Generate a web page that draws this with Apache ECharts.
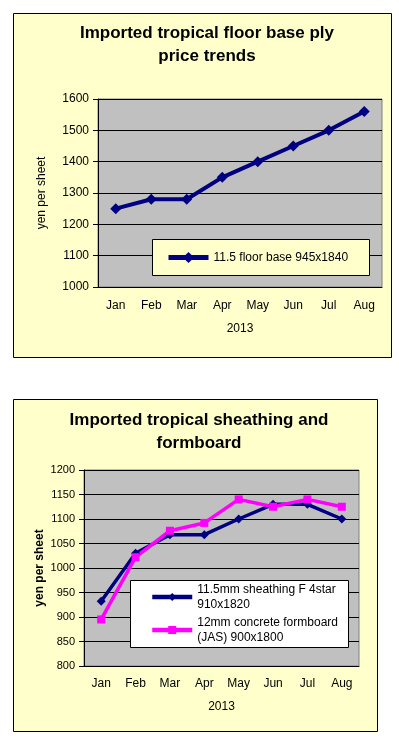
<!DOCTYPE html>
<html>
<head>
<meta charset="utf-8">
<script src="https://cdn.jsdelivr.net/npm/echarts@6/dist/echarts.min.js"></script>
<style>
  html, body { margin: 0; padding: 0; background: #fff; }
  #chart { width: 399px; height: 741px; }
</style>
</head>
<body>
<div id="chart"></div>
<script>
// data
const months = ['Jan', 'Feb', 'Mar', 'Apr', 'May', 'Jun', 'Jul', 'Aug'];
const floorBaseName = '11.5 floor base 945x1840';
const floorBase = [1250, 1280, 1280, 1350, 1400, 1450, 1500, 1560];
const sheathingName = '11.5mm sheathing F 4star\n910x1820';
const sheathing = [932, 1030, 1068, 1068, 1100, 1130, 1130, 1100];
const formboardName = '12mm concrete formboard\n(JAS) 900x1800';
const formboard = [895, 1022, 1076, 1092, 1140, 1125, 1140, 1125];

const font = 'Liberation Sans, Arial, sans-serif';
const navy = '#000080';
const magenta = '#FF00FF';

const chart = echarts.init(document.getElementById('chart'));

function xAxis(gridIndex, gap, margin) {
    return {
        type: 'category',
        gridIndex: gridIndex,
        data: months,
        name: '2013',
        nameLocation: 'middle',
        nameGap: gap,
        nameTextStyle: { color: '#000', fontSize: 12, fontFamily: font },
        axisLine: { lineStyle: { color: '#000' } },
        axisTick: { length: 5, lineStyle: { color: '#000' } },
        axisLabel: { color: '#000', fontSize: 12, fontFamily: font, margin: margin },
        splitLine: { show: false }
    };
}

function yAxis(gridIndex, min, max, interval, gap, fontSize, bold) {
    return {
        type: 'value',
        gridIndex: gridIndex,
        min: min,
        max: max,
        interval: interval,
        name: 'yen per sheet',
        nameLocation: 'middle',
        nameGap: gap,
        nameRotate: 90,
        nameMoveOverlap: false,
        nameTextStyle: { color: '#000', fontSize: 12, fontFamily: font, fontWeight: bold ? 'bold' : 'normal' },
        axisLine: { show: true, lineStyle: { color: '#000' } },
        axisTick: { show: true, length: 5, lineStyle: { color: '#000' } },
        axisLabel: { color: '#000', fontSize: fontSize, fontFamily: font, margin: 9,
                     formatter: function (v) { return String(v); } },
        splitLine: { lineStyle: { color: '#000', width: 1 } }
    };
}

const legendText = { color: '#000', fontSize: 12, fontFamily: font, lineHeight: 15 };

const option = {
    animation: false,
    title: [
        {
            text: 'Imported tropical floor base ply\nprice trends',
            left: 202, top: 17, textAlign: 'center',
            textStyle: { fontSize: 17, fontWeight: 'bold', fontFamily: font, color: '#000', lineHeight: 23 }
        },
        {
            text: 'Imported tropical sheathing and\nformboard',
            left: 194, top: 404, textAlign: 'center',
            textStyle: { fontSize: 17, fontWeight: 'bold', fontFamily: font, color: '#000', lineHeight: 23 }
        }
    ],
    graphic: [
        { type: 'rect', z: -1, shape: { x: 13.5, y: 13.5, width: 378, height: 344 },
          style: { fill: '#FFFFCC', stroke: '#000', lineWidth: 1 } },
        { type: 'rect', z: -1, shape: { x: 13.5, y: 399.5, width: 364, height: 332 },
          style: { fill: '#FFFFCC', stroke: '#000', lineWidth: 1 } },
        { type: 'rect', z: 3, shape: { x: 152.5, y: 239.5, width: 217, height: 36 },
          style: { fill: '#FFFFCC', stroke: '#000', lineWidth: 1 } },
        { type: 'rect', z: 3, shape: { x: 130.5, y: 580.5, width: 218, height: 67 },
          style: { fill: '#FFFFFF', stroke: '#000', lineWidth: 1 } }
    ],
    legend: [
        {
            data: [floorBaseName], left: 166, top: 250, z: 4, padding: 0,
            itemWidth: 40, itemHeight: 14, itemGap: 0,
            lineStyle: { width: 5 },
            textStyle: legendText
        },
        {
            data: [sheathingName], left: 150, top: 582, z: 4, padding: 0,
            itemWidth: 40, itemHeight: 10,
            lineStyle: { width: 4.5 },
            textStyle: legendText
        },
        {
            data: [formboardName], left: 150, top: 615, z: 4, padding: 0,
            itemWidth: 40, itemHeight: 10,
            lineStyle: { width: 4.5 },
            textStyle: legendText
        }
    ],
    grid: [
        { left: 98, top: 99, width: 284, height: 188, show: true,
          backgroundColor: '#C0C0C0', borderColor: '#808080', borderWidth: 1 },
        { left: 84, top: 470, width: 275, height: 196, show: true,
          backgroundColor: '#C0C0C0', borderColor: '#808080', borderWidth: 1 }
    ],
    xAxis: [xAxis(0, 36, 13), xAxis(1, 35, 12)],
    yAxis: [yAxis(0, 1000, 1600, 100, 50, 12, false), yAxis(1, 800, 1200, 50, 38, 11, true)],
    series: [
        {
            name: floorBaseName, type: 'line', xAxisIndex: 0, yAxisIndex: 0,
            data: floorBase, symbol: 'diamond', symbolSize: 11,
            lineStyle: { color: navy, width: 4 }, itemStyle: { color: navy }
        },
        {
            name: sheathingName, type: 'line', xAxisIndex: 1, yAxisIndex: 1,
            data: sheathing, symbol: 'diamond', symbolSize: 9,
            lineStyle: { color: navy, width: 3.5 }, itemStyle: { color: navy }
        },
        {
            name: formboardName, type: 'line', xAxisIndex: 1, yAxisIndex: 1,
            data: formboard, symbol: 'rect', symbolSize: 8,
            lineStyle: { color: magenta, width: 3.5 }, itemStyle: { color: magenta }
        }
    ]
};

chart.setOption(option);
</script>
</body>
</html>
